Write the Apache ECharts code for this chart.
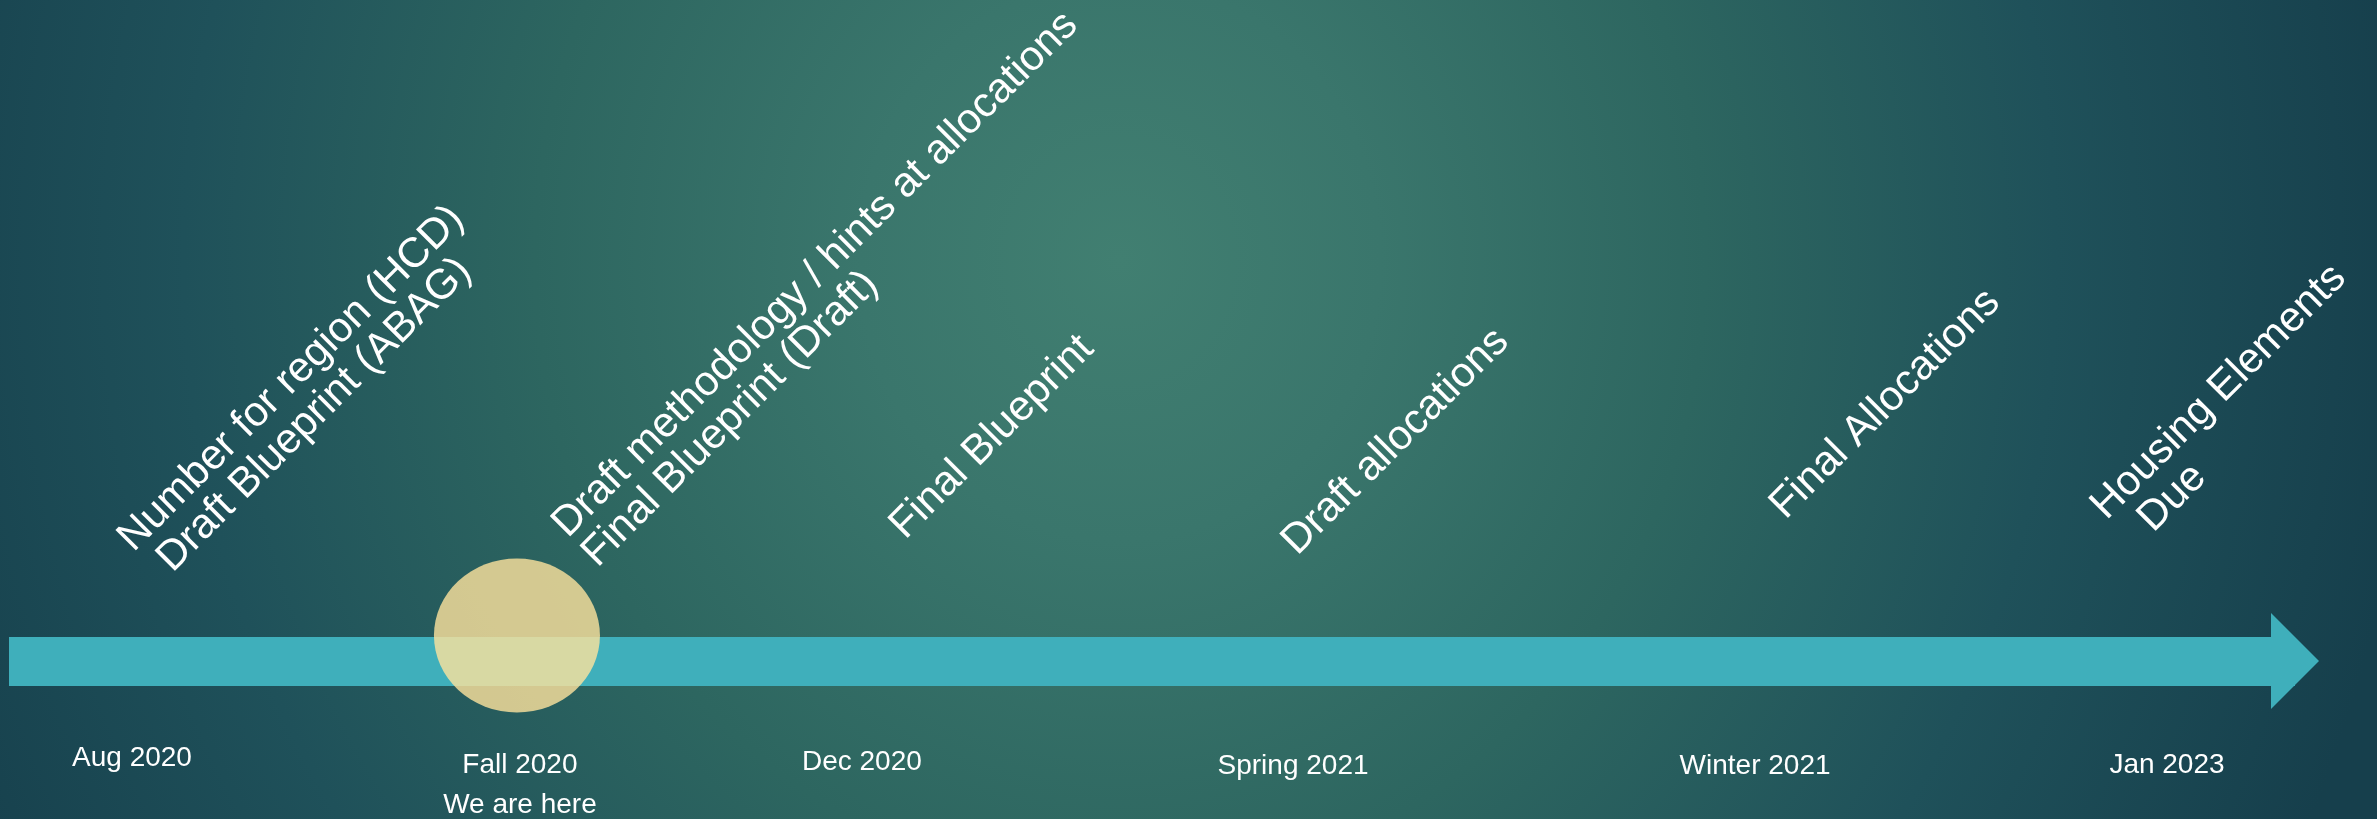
<!DOCTYPE html>
<html>
<head>
<meta charset="utf-8">
<script src="https://cdn.jsdelivr.net/npm/echarts@6/dist/echarts.min.js"></script>
<style>
html, body { margin: 0; padding: 0; width: 2377px; height: 819px; overflow: hidden; }
#chart {
  width: 2377px; height: 819px;
  background: radial-gradient(ellipse 1300px 1400px at 1120px 260px,
    #417f71 0%, #3a766c 20%, #2d6660 45%, #1f515a 72%, #163f4c 100%);
}
</style>
</head>
<body>
<div id="chart"></div>
<script>
// ---- data (timeline position in % of the arrow length, level above/below the arrow) ----
const dateLabels = ['Aug 2020', 'Fall 2020\nWe are here', 'Dec 2020', 'Spring 2021', 'Winter 2021', 'Jan 2023'];
const datePos    = [5.38, 22.35, 37.31, 56.17, 76.38, 94.40];
const dateLevel  = [-77, -84, -81, -85, -85, -84];

const eventLabels = [
  'Number for region (HCD)\nDraft Blueprint (ABAG)',
  'Draft methodology / hints at allocations\nFinal Blueprint (Draft)',
  'Final Blueprint',
  'Draft allocations',
  'Final Allocations',
  'Housing Elements\nDue'
];
const eventPos    = [7.04, 26.03, 39.50, 56.65, 78.00, 93.35];
const eventLevel  = [72, 86, 114, 98, 134, 104];
const eventIndent = [13, 0, 0, 0, 0, 24];

const currentPos   = [22.22];
const currentLevel = [25.5];

// ---- chart ----
const FONT = '"Liberation Sans", Arial, sans-serif';
const chart = echarts.init(document.getElementById('chart'), null, { renderer: 'canvas' });

const eventData = eventLabels.map((t, i) => {
  const lines = t.split('\n');
  const fmt = lines.map((l, j) => '{' + (j === 0 ? 'a' : 'b') + '|' + l + '}').join('\n');
  return {
    value: [eventPos[i], eventLevel[i]],
    name: t,
    label: {
      formatter: fmt,
      rich: {
        a: { fontSize: 42, lineHeight: 42, color: '#ffffff', fontFamily: FONT },
        b: { fontSize: 42, lineHeight: 42, color: '#ffffff', fontFamily: FONT, padding: [0, 0, 0, eventIndent[i]] }
      }
    }
  };
});

const dateData = dateLabels.map((t, i) => ({ value: [datePos[i], dateLevel[i]], name: t }));

chart.setOption({
  animation: false,
  backgroundColor: 'transparent',
  grid: { left: 9, right: 82, top: 0, bottom: 0, containLabel: false },
  xAxis: {
    type: 'value', min: 0, max: 100,
    axisLine: {
      show: true, onZero: true,
      lineStyle: { color: '#3fafbb', width: 49, cap: 'butt' },
      symbol: ['none', 'triangle'],
      symbolSize: [96, 48]
    },
    axisTick: { show: false }, axisLabel: { show: false }, splitLine: { show: false }
  },
  yAxis: {
    type: 'value', min: -158, max: 661,
    axisLine: { show: false }, axisTick: { show: false }, axisLabel: { show: false }, splitLine: { show: false }
  },
  series: [
    {
      name: 'We are here',
      type: 'scatter',
      symbol: 'circle',
      symbolSize: [166, 154],
      itemStyle: { color: 'rgba(255,228,158,0.8)', opacity: 1 },
      emphasis: { disabled: true },
      data: currentPos.map((x, i) => [x, currentLevel[i]]),
      z: 3
    },
    {
      name: 'dates',
      type: 'scatter',
      symbolSize: 1,
      itemStyle: { color: 'rgba(0,0,0,0)', opacity: 1 },
      emphasis: { disabled: true },
      data: dateData,
      label: {
        show: true, position: 'inside', align: 'center', verticalAlign: 'top',
        formatter: p => p.name, opacity: 1,
        color: '#ffffff', fontSize: 28, lineHeight: 40, fontFamily: FONT
      },
      z: 4
    },
    {
      name: 'events',
      type: 'scatter',
      symbolSize: 1,
      itemStyle: { color: 'rgba(0,0,0,0)', opacity: 1 },
      emphasis: { disabled: true },
      data: eventData,
      label: {
        show: true, position: 'inside', align: 'left', verticalAlign: 'bottom', rotate: 45, opacity: 1,
        color: '#ffffff', fontSize: 42, lineHeight: 42, fontFamily: FONT
      },
      z: 4
    }
  ]
});
</script>
</body>
</html>
